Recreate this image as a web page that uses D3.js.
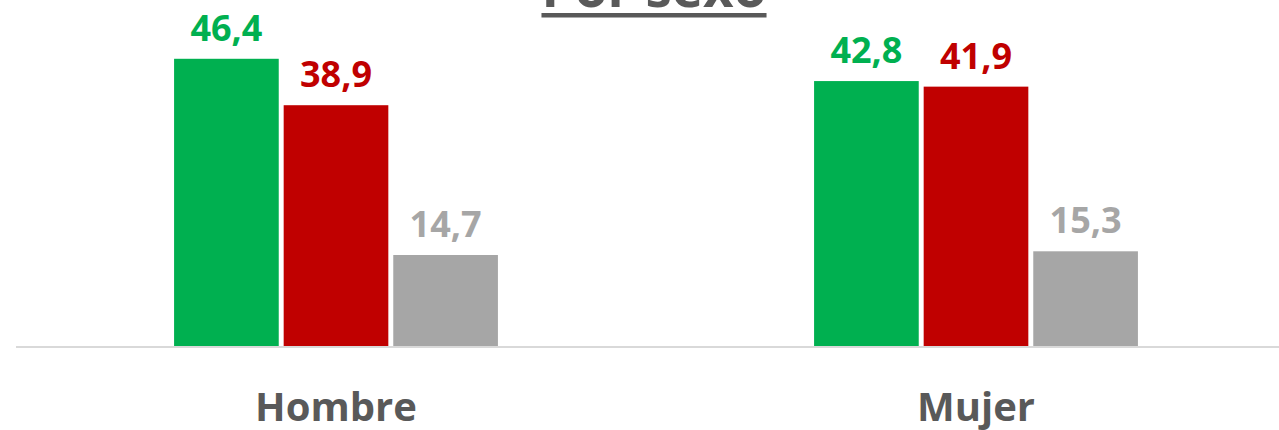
<!DOCTYPE html>
<meta charset="utf-8">
<style>
body { margin: 0; background: #fff; }
text { font-family: "Open Sans", sans-serif; font-weight: bold; }
</style>
<svg width="1279" height="430"></svg>
<script src="https://cdnjs.cloudflare.com/ajax/libs/d3/7.8.5/d3.min.js"></script>
<script>

// data
var categories = ["Hombre", "Mujer"]
var seriesNames = ["s1", "s2", "s3"]
var colors = ["#00B050", "#C00000", "#A6A6A6"]
var values = [
  [46.4, 38.9, 14.7],   // Hombre
  [42.8, 41.9, 15.3]    // Mujer
]
var title = "Por sexo"

var svg = d3.select("svg")
var baseline = 346

var x0 = d3.scaleBand()
    .domain(categories)
    .range([16, 1296])
    .paddingInner(0.494)
    .paddingOuter(0.247)

var x1 = d3.scaleBand()
    .domain(seriesNames)
    .range([0, x0.bandwidth()])
    .paddingInner(0.045)

var y = d3.scaleLinear()
    .domain([0, 50])
    .range([baseline, baseline - 50 * 6.19])

var fmt = function(v) { return d3.format(".1f")(v).replace(".", ","); }

// title (cut at top of the frame)
var t = svg.append("text")
    .attr("x", 654)
    .attr("y", 7)
    .attr("text-anchor", "middle")
    .style("font-size", "53px")
    .attr("fill", "#595959")
    .text(title)
var bb = t.node().getBBox()
svg.append("rect")
    .attr("x", bb.x)
    .attr("y", 13)
    .attr("width", bb.width)
    .attr("height", 4.5)
    .attr("fill", "#595959")

var groups = svg.selectAll(".grp")
  .data(categories)
  .enter().append("g")
    .attr("class", "grp")
    .attr("transform", function(d) { return "translate(" + x0(d) + ",0)"; })

groups.selectAll("rect")
  .data(function(d, i) { return values[i].map(function(v, j) { return {v: v, s: seriesNames[j], c: colors[j]}; }); })
  .enter().append("rect")
    .attr("x", function(d) { return x1(d.s); })
    .attr("y", function(d) { return y(d.v); })
    .attr("width", x1.bandwidth())
    .attr("height", function(d) { return baseline - y(d.v); })
    .attr("fill", function(d) { return d.c; })

groups.selectAll(".lbl")
  .data(function(d, i) { return values[i].map(function(v, j) { return {v: v, s: seriesNames[j], c: colors[j]}; }); })
  .enter().append("text")
    .attr("class", "lbl")
    .attr("x", function(d) { return x1(d.s) + x1.bandwidth() / 2; })
    .attr("y", function(d) { return y(d.v) - 18; })
    .attr("text-anchor", "middle")
    .style("font-size", "36px")
    .attr("fill", function(d) { return d.c; })
    .text(function(d) { return fmt(d.v); })

// axis line
svg.append("line")
    .attr("x1", 16).attr("x2", 1279)
    .attr("y1", baseline + 1).attr("y2", baseline + 1)
    .attr("stroke", "#D9D9D9")
    .attr("stroke-width", 2)

svg.selectAll(".cat")
  .data(categories)
  .enter().append("text")
    .attr("class", "cat")
    .attr("x", function(d) { return x0(d) + x0.bandwidth() / 2; })
    .attr("y", 421)
    .attr("text-anchor", "middle")
    .style("font-size", "40px")
    .attr("fill", "#595959")
    .text(function(d) { return d; })

</script>
